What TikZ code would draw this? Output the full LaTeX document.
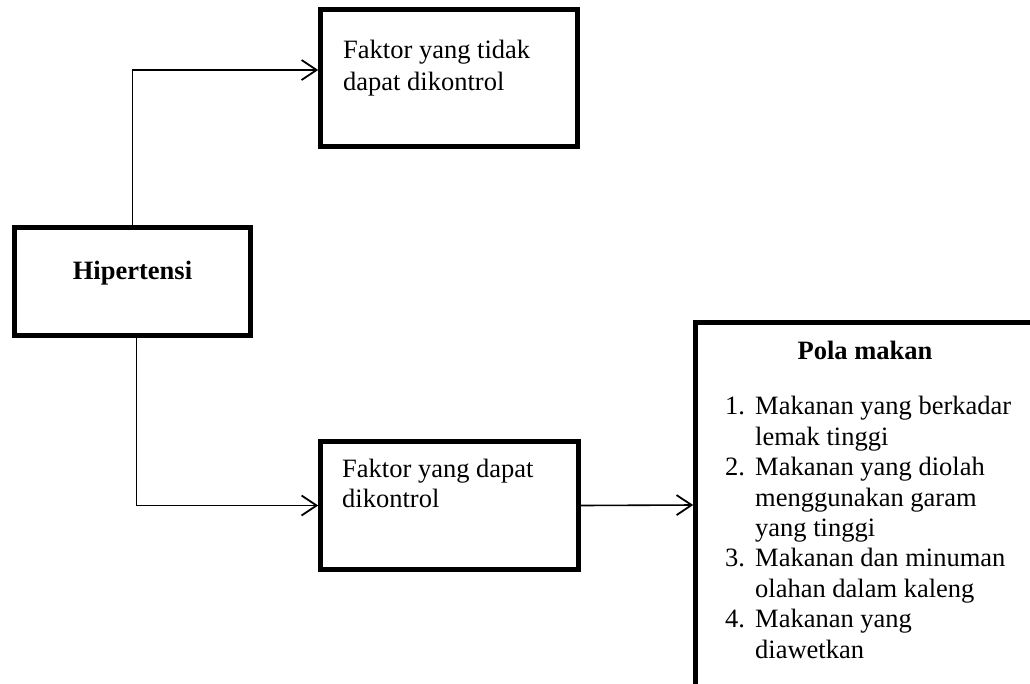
\documentclass[tikz,border=0pt]{standalone}
\usepackage{fontspec}
\setmainfont{Liberation Serif}
\usetikzlibrary{arrows.meta}
\begin{document}
\begin{tikzpicture}[x=1pt,y=-1pt,
  box/.style={draw=black,line width=4.6pt,rectangle,inner sep=0pt},
  conn/.style={line width=1.6pt,-{Straight Barb[length=15pt,width=20pt,line width=1.8pt]}},
  txt/.style={inner sep=0pt,align=left,font=\fontsize{26.5}{31}\selectfont},
  lst/.style={inner sep=0pt,align=left,font=\fontsize{26.5}{30.4}\selectfont}]
\clip (0,0) rectangle (1030,683);
\fill[white] (0,0) rectangle (1030,683);
% boxes
\node[box,minimum width=257pt,minimum height=137pt] (top) at (449,78) {};
\node[box,minimum width=236pt,minimum height=108pt] (hip) at (132.5,281.5) {};
\node[box,minimum width=258pt,minimum height=128pt] (mid) at (449.5,505.5) {};
\node[box,minimum width=345pt,minimum height=365pt] (pola) at (868,505) {};
% texts (base anchor = baseline of the last line)
\node[txt,anchor=base west,font=\fontsize{26.5}{32}\selectfont] (toptxt) at (343,90) {Faktor yang tidak\\dapat dikontrol};
\node[txt,anchor=base,font=\fontsize{26.5}{31}\selectfont\bfseries] (hiptxt) at (132.5,279) {Hipertensi};
\node[txt,anchor=base west,font=\fontsize{26.5}{30}\selectfont] (midtxt) at (342,507) {Faktor yang dapat\\dikontrol};
\node[txt,anchor=base,font=\fontsize{26.5}{31}\selectfont\bfseries] (polatxt) at (865,359) {Pola makan};
\node[lst,anchor=base west] (list) at (725,658) {\makebox[30pt][l]{1.}Makanan yang berkadar\\
\hspace*{30pt}lemak tinggi\\
\makebox[30pt][l]{2.}Makanan yang diolah\\
\hspace*{30pt}menggunakan garam\\
\hspace*{30pt}yang tinggi\\
\makebox[30pt][l]{3.}Makanan dan minuman\\
\hspace*{30pt}olahan dalam kaleng\\
\makebox[30pt][l]{4.}Makanan yang\\
\hspace*{30pt}diawetkan};
% connectors
\draw[conn] (hip.north) |- ([yshift=8pt]top.west);
\draw[conn] ([xshift=4pt]hip.south) |- (mid.west);
\draw[conn] (mid.east) -- (pola.west);
\end{tikzpicture}
\end{document}
